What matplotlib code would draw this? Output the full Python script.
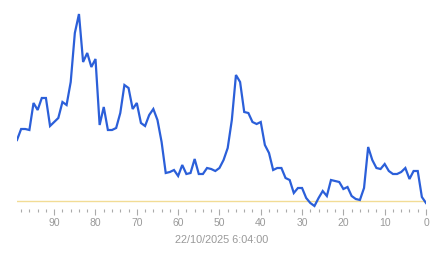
import matplotlib
matplotlib.use("Agg")
import matplotlib.pyplot as plt
from matplotlib.ticker import MultipleLocator

ages = list(range(99, -1, -1))
values = [61, 72, 72, 71, 98, 91, 103, 103, 75, 79,
          83, 99, 96, 119, 168, 187, 139, 148, 134, 142,
          76, 94, 71, 71, 73, 88, 116, 113, 92, 98,
          78, 75, 86, 92, 81, 59, 28, 29, 31, 25,
          36, 27, 28, 42, 27, 27, 33, 32, 30, 33,
          41, 53, 81, 126, 119, 89, 88, 79, 77, 79,
          56, 48, 31, 33, 33, 23, 21, 8, 13, 13,
          3, -2, -5, 3, 10, 5, 21, 20, 19, 12,
          14, 5, 2, 1, 13, 54, 41, 33, 32, 37,
          30, 27, 27, 29, 33, 22, 30, 30, 4, -2]
baseline = 0
xlabel = "22/10/2025 6:04:00"

plt.rcParams['font.family'] = ['Liberation Sans', 'DejaVu Sans']
W, H = 443, 258
fig = plt.figure(figsize=(W / 100, H / 100), dpi=100)
left, right, top, bottom = 17, 426, 5, 209
ax = fig.add_axes([left / W, 1 - bottom / H, (right - left) / W, (bottom - top) / H])

ax.axhline(baseline, color='#f2dc95', lw=1.0, zorder=1)
ax.plot(ages, values, color='#2b5fd9', lw=1.6, zorder=2, solid_joinstyle='miter')

ax.set_xlim(99, 0)
ax.set_ylim(-8, 196)
for s in ax.spines.values():
    s.set_visible(False)
ax.set_yticks([])
ax.xaxis.set_major_locator(MultipleLocator(10))
ax.xaxis.set_minor_locator(MultipleLocator(2))
ax.tick_params(axis='x', which='major', length=4.5, width=0.8, color='#aaaaaa',
               labelcolor='#999999', labelsize=7.5, pad=2)
ax.tick_params(axis='x', which='minor', length=2, width=0.8, color='#aaaaaa')
ax.set_xlabel(xlabel, color='#999999', fontsize=7.8, labelpad=5)

fig.savefig("out.png", dpi=100)
